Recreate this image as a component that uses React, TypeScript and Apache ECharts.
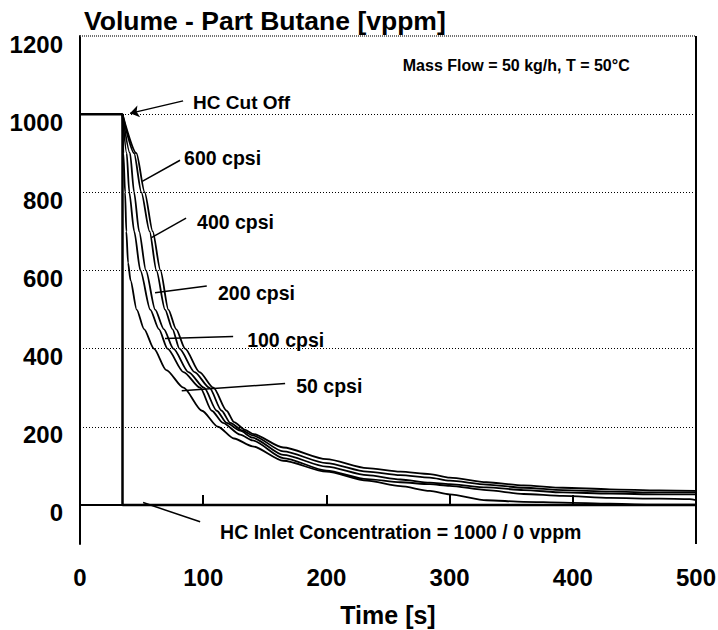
import React, { useEffect, useRef } from "react";
import * as echarts from "echarts";

// ---- data ----
const inletTimes = [0, 34.5, 34.5, 500];
const inletValues = [1000, 1000, 0, 0];

const t50 = [34.5, 35.2, 36.6, 37.6, 39, 41, 46, 52, 60, 70, 84, 99, 112, 125, 140, 165, 200, 233, 260, 284, 300, 330, 360, 392, 430, 460, 500];
const v50 = [1000, 900, 800, 700, 620, 575, 500, 450, 400, 345, 300, 241, 200, 170, 150, 113, 85, 62, 48, 36, 27, 12, 8, 6, 3, 1, 1];

const t100 = [34.5, 37.9, 40, 44, 49, 57, 64, 71, 84, 97.5, 107, 116, 130, 140, 165, 200, 233, 260, 284, 300, 330, 360, 392, 430, 470, 495, 500];
const v100 = [1000, 900, 800, 700, 600, 500, 450, 400, 340, 300, 241, 210, 180, 165, 120, 88, 66, 58, 53, 49, 38, 28, 23, 18, 16, 15, 12];

const t200 = [34.5, 40.6, 43.9, 48, 53.5, 61, 68, 75.8, 88, 100.7, 111, 119, 130, 140, 165, 200, 233, 260, 284, 300, 330, 360, 392, 430, 470, 500];
const v200 = [1000, 900, 800, 700, 600, 500, 450, 400, 340, 300, 241, 210, 190, 172, 128, 98, 76, 65, 57, 53, 45, 38, 32, 29, 27, 27];

const t400 = [34.5, 43.9, 49.8, 56.5, 62, 69, 75, 80.7, 93, 105, 115, 122, 132, 140, 165, 200, 233, 260, 284, 300, 330, 360, 392, 430, 470, 500];
const v400 = [1000, 900, 800, 700, 600, 500, 450, 400, 340, 300, 241, 210, 190, 178, 137, 107, 85, 76, 70, 62, 52, 44, 38, 34, 32, 32];

const t600 = [34.5, 45.8, 52.5, 59, 65.3, 71.7, 78, 85.3, 97, 108.3, 119, 125, 134, 140, 165, 200, 233, 260, 284, 300, 330, 360, 392, 430, 470, 500];
const v600 = [1000, 900, 800, 700, 600, 500, 450, 400, 340, 300, 241, 212, 192, 182, 147, 117, 94, 85, 79, 70, 58, 50, 44, 40, 37, 36];

const curveNames = ["50 cpsi", "100 cpsi", "200 cpsi", "400 cpsi", "600 cpsi"];
const gridValues = [200, 400, 600, 800, 1000];
const xTickLabels = [0, 100, 200, 300, 400, 500];
const yTickLabels = [0, 200, 400, 600, 800, 1000, 1200];

const FONT = "'Liberation Sans', Arial, Helvetica, sans-serif";

// annotation layout (data coordinates)
const annotations = [
  { text: "HC Cut Off", at: [91.8, 1031], size: 19 },
  { text: "Mass Flow = 50 kg/h, T = 50°C", at: [262, 1125], size: 16 },
  { text: "600 cpsi", at: [84.5, 889], size: 19.5 },
  { text: "400 cpsi", at: [95, 723], size: 19.5 },
  { text: "200 cpsi", at: [112, 543], size: 19.5 },
  { text: "100 cpsi", at: [135.7, 423], size: 19.5 },
  { text: "50 cpsi", at: [175.5, 305], size: 19.5 },
  { text: "HC Inlet Concentration = 1000 / 0 vppm", at: [113.7, -68.5], size: 19.5 },
];
const leaders = [
  [[81.2, 882], [50.5, 828]],
  [[86.1, 734], [58, 684]],
  [[102.9, 560], [60.9, 543]],
  [[124.3, 431], [69, 426]],
  [[166.5, 311], [82.6, 292]],
  [[97.5, -43], [51.2, 6]],
];
const arrowLine = [[83.7, 1034], [40.6, 1002]];

function zip(t: number[], v: number[]) {
  return t.map((x, i) => [x, v[i]]);
}

export default function App() {
  const ref = useRef<HTMLDivElement>(null);
  useEffect(() => {
    if (!ref.current) return;
    const chart = echarts.init(ref.current, undefined, { renderer: "svg" });
    const curves = [zip(t50, v50), zip(t100, v100), zip(t200, v200), zip(t400, v400), zip(t600, v600)];
    const curveSeries = curves.map((d, i) => ({
      type: "line",
      name: curveNames[i],
      data: d,
      symbol: "none",
      smooth: 0.25,
      smoothMonotone: "x",
      lineStyle: { color: "#000", width: 1.8 },
      silent: true,
      z: 3,
      ...(i === 0
        ? {
            markLine: {
              silent: true,
              animation: false,
              symbol: ["none", "arrow"],
              symbolSize: 9,
              label: { show: false },
              lineStyle: { color: "#000", width: 1.5, type: "solid" },
              data: [[{ coord: arrowLine[0] }, { coord: arrowLine[1] }]],
            },
          }
        : {}),
    }));
    const dotted = { color: "#000", width: 1, type: [1, 2] as any };
    const labelFont = { fontFamily: FONT, fontSize: 24, fontWeight: "bold", color: "#000" };
    chart.setOption({
      animation: false,
      title: {
        text: "Volume - Part Butane [vppm]",
        left: 79,
        top: 2,
        textStyle: { fontFamily: FONT, fontSize: 26.5, fontWeight: "bold", color: "#000" },
      },
      grid: { left: 80, right: 22, top: 36, bottom: 86, containLabel: false, outerBoundsMode: "none" },
      xAxis: {
        type: "value",
        min: 0,
        max: 500,
        interval: 100,
        name: "Time [s]",
        nameLocation: "middle",
        nameGap: 58,
        nameTextStyle: { fontFamily: FONT, fontSize: 25, fontWeight: "bold", color: "#000" },
        axisLine: { show: true, lineStyle: { color: "#000", width: 2 } },
        axisTick: { show: true, inside: true, length: 10, lineStyle: { color: "#000", width: 2 } },
        axisLabel: {
          ...labelFont,
          margin: 21,
          formatter: (v: number) => (xTickLabels.includes(v) ? String(v) : ""),
        },
        splitLine: { show: false },
      },
      yAxis: {
        type: "value",
        min: -100,
        max: 1200,
        interval: 100,
        axisLine: { show: true, lineStyle: { color: "#000", width: 2 } },
        axisTick: { show: false },
        axisLabel: {
          ...labelFont,
          margin: 17,
          formatter: (v: number) => (yTickLabels.includes(v) ? `{a|${v}}` : ""),
          rich: { a: { ...labelFont, padding: [16, 0, 0, 0] } },
        },
        splitLine: { show: false },
      },
      series: [
        {
          type: "line",
          name: "HC Inlet",
          data: zip(inletTimes, inletValues),
          symbol: "none",
          lineStyle: { color: "#000", width: 2.5 },
          silent: true,
          z: 4,
          markLine: {
            silent: true,
            animation: false,
            symbol: ["none", "none"],
            label: { show: false },
            lineStyle: dotted,
            data: [
              ...gridValues.map((v) => ({ yAxis: v })),
              { yAxis: 0 },
              { yAxis: 1200, lineStyle: { color: "#444", width: 1.5, type: [1, 1] } },
              { xAxis: 500, lineStyle: { color: "#000", width: 2, type: "solid" } },
            ],
          },
        },
        ...curveSeries,
        {
          type: "scatter",
          name: "annotations",
          symbolSize: 0,
          silent: true,
          z: 5,
          itemStyle: { opacity: 1 },
          data: annotations.map((a) => ({
            name: a.text,
            value: a.at,
            label: {
              show: true,
              position: "right",
              distance: 0,
              formatter: "{b}",
              fontFamily: FONT,
              fontSize: a.size,
              fontWeight: "bold",
              color: "#000",
              opacity: 1,
            },
          })),
          markLine: {
            silent: true,
            animation: false,
            symbol: ["none", "none"],
            label: { show: false },
            lineStyle: { color: "#000", width: 1.5, type: "solid" },
            data: leaders.map((l) => [{ coord: l[0] }, { coord: l[1] }]),
          },
        },
      ],
    });
    return () => chart.dispose();
  }, []);
  return (
    <div
      ref={ref}
      style={{ position: "fixed", left: 0, top: 0, width: 718, height: 630, background: "#fff" }}
    />
  );
}
